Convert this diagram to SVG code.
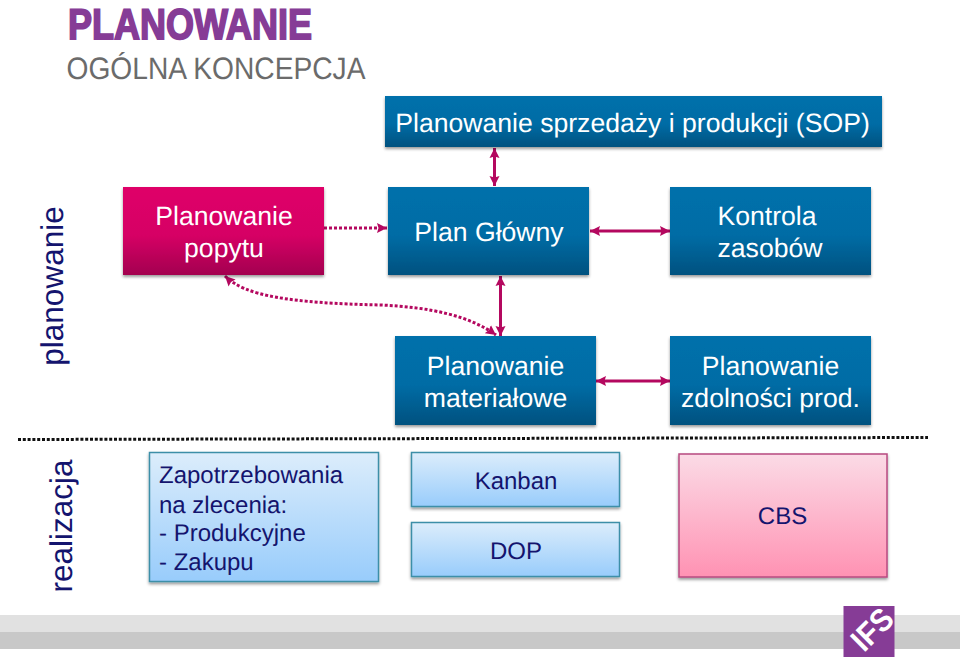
<svg xmlns="http://www.w3.org/2000/svg" width="960" height="660" viewBox="0 0 960 660">
<style>
text{font-family:"Liberation Sans",Arial,sans-serif;text-anchor:middle;text-rendering:geometricPrecision}
.w{fill:#fff;font-size:26.6px}
.d{fill:#14146e;font-size:24px}
.b{fill:url(#blue);filter:url(#sh)}
.m{fill:url(#mag);filter:url(#sh)}
.l{fill:url(#lb);stroke:#3d8fa8;stroke-width:1.500;filter:url(#sh)}
.p{fill:url(#pk);stroke:#b84a80;stroke-width:1.500;filter:url(#sh)}
.c{fill:none;stroke:#b4085f;stroke-width:3;marker-start:url(#as);marker-end:url(#ae)}
.e{fill:none;stroke:#b4085f;stroke-width:3;marker-end:url(#ae)}
.dot{stroke-dasharray:3 2}
.v{fill:#14146e;font-size:31.500px}
</style>
<defs>
<linearGradient id="blue" x1="0" y1="0" x2="0" y2="1"><stop offset="0" stop-color="#0470ab"/><stop offset=".55" stop-color="#046ca5"/><stop offset="1" stop-color="#03517f"/></linearGradient>
<linearGradient id="mag" x1="0" y1="0" x2="0" y2="1"><stop offset="0" stop-color="#df0068"/><stop offset=".55" stop-color="#d60065"/><stop offset="1" stop-color="#a3004f"/></linearGradient>
<linearGradient id="lb" x1="0" y1="0" x2="0" y2="1"><stop offset="0" stop-color="#dcedfb"/><stop offset="1" stop-color="#98ccfb"/></linearGradient>
<linearGradient id="pk" x1="0" y1="0" x2="0" y2="1"><stop offset="0" stop-color="#fbdbe6"/><stop offset="1" stop-color="#ff92b3"/></linearGradient>
<filter id="sh" x="-5%" y="-5%" width="110%" height="115%"><feDropShadow dx="0" dy="2" stdDeviation="1.500" flood-color="#000" flood-opacity=".4"/></filter>
<marker id="ae" markerUnits="userSpaceOnUse" markerWidth="11" markerHeight="12" refX="10" refY="6" orient="auto"><path d="M0 1L10 6L0 11L1.500 6Z" fill="#b4085f"/></marker>
<marker id="as" markerUnits="userSpaceOnUse" markerWidth="11" markerHeight="12" refX="0" refY="6" orient="auto"><path d="M10 1L0 6L10 11L8.500 6Z" fill="#b4085f"/></marker>
</defs>
<rect width="960" height="660" fill="#fff"/>
<rect id="band-top" x="0" y="615" width="960" height="17" fill="#e1e1e1"/>
<rect id="band-bottom" x="0" y="632" width="960" height="17" fill="#c8c8c8"/>
<g id="title">
<text x="190" y="39" style="font-size:43px;font-weight:700;stroke:#863c96;stroke-width:1.800" fill="#863c96" textLength="244" lengthAdjust="spacingAndGlyphs">PLANOWANIE</text>
<text x="216" y="78.500" style="font-size:31px" fill="#6b6b6b" textLength="299" lengthAdjust="spacingAndGlyphs">OGÓLNA KONCEPCJA</text>
</g>
<g id="connectors">
<path class="c" d="M494.500 148V186"/>
<path class="e dot" d="M324 228H387"/>
<path class="c" d="M590 231H670"/>
<path class="c" d="M500.500 276V336"/>
<path class="c" d="M596 381H670"/>
<path class="c dot" d="M225 276C245 296 290 303 380 305C430 307 470 316 496 335"/>
<path d="M18 439.500L928 437.500" fill="none" stroke="#111" stroke-width="3" stroke-dasharray="3 1.800"/>
</g>
<g id="sop"><rect class="b" x="385" y="96" width="497" height="51"/><text class="w" x="632.500" y="132">Planowanie sprzedaży i produkcji (SOP)</text></g>
<g id="popyt"><rect class="m" x="123" y="187" width="201" height="88"/><text class="w" x="224" y="225">Planowanie</text><text class="w" x="224" y="257">popytu</text></g>
<g id="plan-glowny"><rect class="b" x="388" y="187" width="201" height="88"/><text class="w" x="489" y="241">Plan Główny</text></g>
<g id="kontrola"><rect class="b" x="670" y="187" width="201" height="88"/><text class="w" x="767" y="225">Kontrola</text><text class="w" x="770" y="257">zasobów</text></g>
<g id="materialowe"><rect class="b" x="395" y="336" width="201" height="89"/><text class="w" x="495.500" y="375">Planowanie</text><text class="w" x="495.500" y="407">materiałowe</text></g>
<g id="zdolnosci"><rect class="b" x="670" y="336" width="201" height="89"/><text class="w" x="770.500" y="375">Planowanie</text><text class="w" x="770.500" y="407">zdolności prod.</text></g>
<g id="label-planowanie"><text class="v" transform="translate(63 286) rotate(-90)">planowanie</text></g>
<g id="label-realizacja"><text class="v" transform="translate(72 526) rotate(-90)">realizacja</text></g>
<g id="zapotrzebowania"><rect class="l" x="149.500" y="452.500" width="229" height="129"/>
<text class="d" x="159" y="483" style="text-anchor:start">Zapotrzebowania</text>
<text class="d" x="159" y="513" style="text-anchor:start">na zlecenia:</text>
<text class="d" x="159" y="541" style="text-anchor:start">- Produkcyjne</text>
<text class="d" x="159" y="570" style="text-anchor:start">- Zakupu</text></g>
<g id="kanban"><rect class="l" x="411.500" y="452.500" width="208" height="54"/><text class="d" x="516" y="489">Kanban</text></g>
<g id="dop"><rect class="l" x="411.500" y="522.500" width="208" height="54"/><text class="d" x="516" y="559">DOP</text></g>
<g id="cbs"><rect class="p" x="679" y="454" width="208" height="123"/><text class="d" x="782.500" y="524">CBS</text></g>
<g id="logo"><rect x="843.500" y="606" width="51" height="51" fill="#863c96"/>
<text transform="translate(864 653) rotate(-45)" style="font-size:32px;font-weight:700;text-anchor:start" fill="#fff" textLength="45" lengthAdjust="spacingAndGlyphs">IFS</text></g>
</svg>
